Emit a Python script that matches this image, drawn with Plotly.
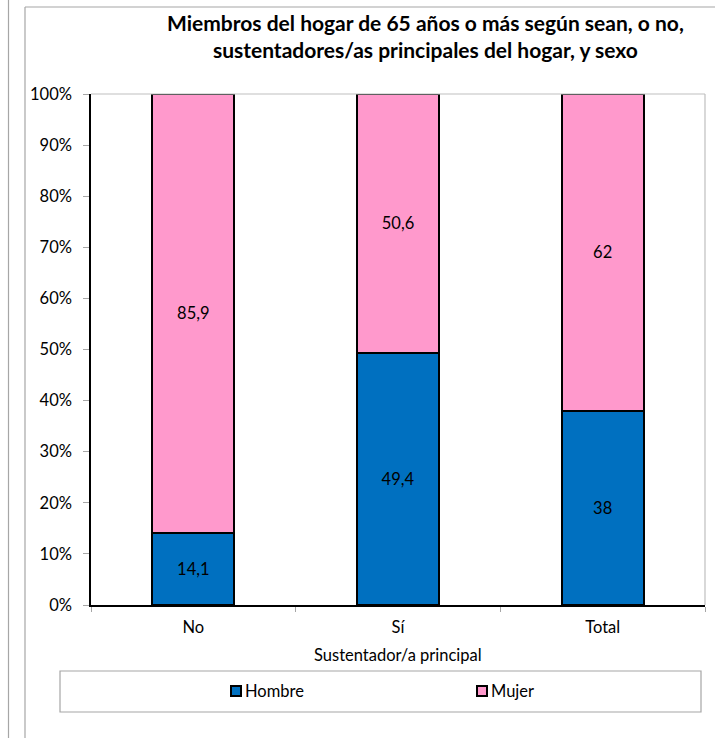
import plotly.graph_objects as go

categories = ["No", "Sí", "Total"]
hombre = [14.1, 49.4, 38]
mujer = [85.9, 50.6, 62]
y_ticks = [0, 10, 20, 30, 40, 50, 60, 70, 80, 90, 100]
y_ticktext = [f"{v}%" for v in y_ticks]
series_names = ["Hombre", "Mujer"]
series_colors = ["#0070C0", "#FF99CC"]

def fmt(v):
    return f"{v:g}".replace(".", ",")

W, H = 715, 738
L, R, T, B = 91, 705, 94, 605
PW, PH = R - L, B - T

def px(x):
    return (x - L) / PW

def py(y):
    return (B - y) / PH

FONT = "Lato, 'Open Sans', sans-serif"
AX = 16.5
TT = 21
GRAY = "#A6A6A6"

fig = go.Figure()
for name, vals, col in zip(series_names, [hombre, mujer], series_colors):
    fig.add_trace(go.Bar(
        name=name, x=categories, y=vals, width=0.4,
        marker=dict(color=col, line=dict(color="#000000", width=2)),
        text=[fmt(v) for v in vals], texttemplate="%{text}",
        textposition="inside", insidetextanchor="middle",
        textangle=0, textfont=dict(color="#000000", size=AX, family=FONT),
        showlegend=False,
    ))

shapes = [
    dict(type="line", xref="paper", yref="paper",
         x0=px(25), x1=px(715), y0=py(7), y1=py(7),
         line=dict(color=GRAY, width=1.2)),
    dict(type="line", xref="paper", yref="paper",
         x0=px(25), x1=px(25), y0=py(7), y1=py(738),
         line=dict(color=GRAY, width=1.2)),
    dict(type="line", xref="paper", yref="paper",
         x0=px(8.5), x1=px(8.5), y0=py(0), y1=py(738),
         line=dict(color=GRAY, width=1.2)),
    dict(type="line", xref="paper", yref="paper",
         x0=0, x1=1, y0=1, y1=1, line=dict(color="#BFBFBF", width=1.2)),
    dict(type="line", xref="paper", yref="paper",
         x0=1, x1=1, y0=0, y1=1, line=dict(color="#BFBFBF", width=1.2)),
    dict(type="rect", xref="paper", yref="paper",
         x0=px(60), x1=px(701), y0=py(712), y1=py(671),
         line=dict(color=GRAY, width=1.2)),
]
annotations = []
for name, col, sx in zip(series_names, series_colors, [231, 477]):
    shapes.append(dict(type="rect", xref="paper", yref="paper",
                       x0=px(sx), x1=px(sx + 10), y0=py(696), y1=py(686),
                       fillcolor=col, line=dict(color="#000000", width=2)))
    annotations.append(dict(text=name, xref="paper", yref="paper",
                            x=px(sx + 12), y=py(691), xanchor="left", yanchor="middle",
                            showarrow=False, font=dict(size=AX, family=FONT, color="#000000")))

annotations.append(dict(
    text="<b>Miembros del hogar de 65 años o más según sean, o no,<br>sustentadores/as principales del hogar, y sexo</b>",
    xref="paper", yref="paper", x=px(425), y=py(36), xanchor="center", yanchor="middle",
    showarrow=False, align="center", font=dict(size=TT, family=FONT, color="#000000")))
annotations.append(dict(
    text="Sustentador/a principal",
    xref="paper", yref="paper", x=px(398), y=py(655), xanchor="center", yanchor="middle",
    showarrow=False, font=dict(size=AX, family=FONT, color="#000000")))

fig.update_layout(
    width=W, height=H,
    margin=dict(l=L, r=W - R, t=T, b=H - B, pad=0),
    paper_bgcolor="white", plot_bgcolor="white",
    barmode="stack", showlegend=False,
    font=dict(family=FONT, size=AX, color="#000000"),
    xaxis=dict(
        showline=True, linecolor="#000000", linewidth=1.5,
        ticks="outside", tickson="boundaries", ticklen=5, tickcolor=GRAY,
        showgrid=False, tickfont=dict(size=AX, family=FONT),
        ticklabelstandoff=6,
    ),
    yaxis=dict(
        range=[0, 100], tickmode="array", tickvals=y_ticks, ticktext=y_ticktext,
        showline=True, linecolor="#000000", linewidth=1.5,
        ticks="outside", ticklen=6, tickcolor=GRAY,
        showgrid=False, zeroline=False, tickfont=dict(size=AX, family=FONT),
        ticklabelstandoff=8,
    ),
    shapes=shapes,
    annotations=annotations,
)

fig.write_html("out.html", config={"displayModeBar": False},
               post_script="document.body.style.margin='0';")
